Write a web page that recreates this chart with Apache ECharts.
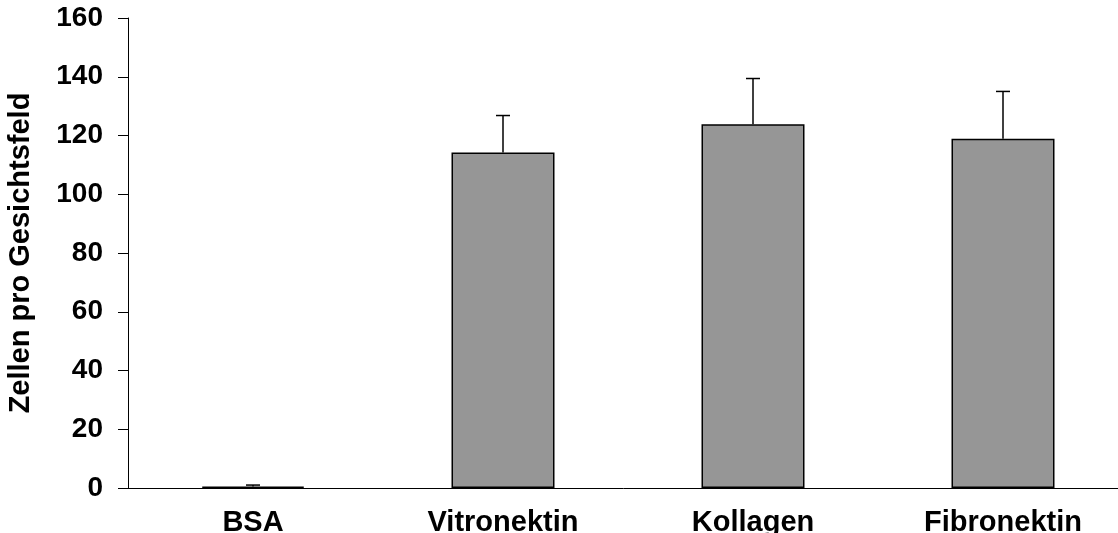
<!DOCTYPE html>
<html>
<head>
<meta charset="utf-8">
<style>
  html, body { margin: 0; padding: 0; background: #fff; }
  #chart { width: 1118px; height: 533px; }
</style>
<script src="https://cdn.jsdelivr.net/npm/echarts@6/dist/echarts.min.js"></script>
</head>
<body>
<div id="chart"></div>
<script>
// Adhesion assay: mean cell count per field of view on each coating, with SD
const categories = ['BSA', 'Vitronektin', 'Kollagen', 'Fibronektin'];
const means = [0.5, 114.2, 123.8, 118.9];
const errors = [0.5, 12.6, 15.6, 16.1];
const yTicks = [0, 20, 40, 60, 80, 100, 120, 140, 160];
const yTitle = 'Zellen pro Gesichtsfeld';

const FONT = '"Liberation Sans", Arial, sans-serif';

const chart = echarts.init(document.getElementById('chart'), null, { renderer: 'canvas' });

chart.setOption({
  animation: false,
  backgroundColor: '#ffffff',
  grid: {
    left: 128, top: 18, width: 1000, height: 470,
    containLabel: false, outerBoundsMode: 'none'
  },
  xAxis: {
    type: 'category',
    data: categories,
    boundaryGap: true,
    axisLine: { show: true, lineStyle: { color: '#000', width: 1 } },
    axisTick: { show: false },
    axisLabel: {
      color: '#000', fontFamily: FONT, fontWeight: 'bold', fontSize: 29,
      margin: 20
    },
    splitLine: { show: false }
  },
  yAxis: {
    type: 'value',
    min: yTicks[0],
    max: yTicks[yTicks.length - 1],
    interval: yTicks[1] - yTicks[0],
    name: yTitle,
    nameLocation: 'middle',
    nameRotate: 90,
    nameGap: 93,
    nameTextStyle: { color: '#000', fontFamily: FONT, fontWeight: 'bold', fontSize: 29 },
    axisLine: { show: true, lineStyle: { color: '#000', width: 1 } },
    axisTick: { show: true, inside: false, length: 10, lineStyle: { color: '#000', width: 1 } },
    axisLabel: {
      color: '#000', fontFamily: FONT, fontWeight: 'bold', fontSize: 28,
      margin: 25
    },
    splitLine: { show: false }
  },
  series: [
    {
      type: 'bar',
      data: means,
      barWidth: 103,
      itemStyle: { color: '#969696', borderColor: '#000', borderWidth: 1.5 },
      z: 2
    },
    {
      type: 'custom',
      z: 3,
      data: means.map((m, i) => [i, m, m + errors[i]]),
      renderItem: function (params, api) {
        const i = api.value(0);
        const base = api.coord([i, api.value(1)]);
        const top = api.coord([i, api.value(2)]);
        const half = 7;
        const style = { stroke: '#000', lineWidth: 1.5 };
        return {
          type: 'group',
          children: [
            { type: 'line', shape: { x1: base[0], y1: base[1], x2: top[0], y2: top[1] }, style: style },
            { type: 'line', shape: { x1: top[0] - half, y1: top[1], x2: top[0] + half, y2: top[1] }, style: style }
          ]
        };
      }
    }
  ]
});
</script>
</body>
</html>
